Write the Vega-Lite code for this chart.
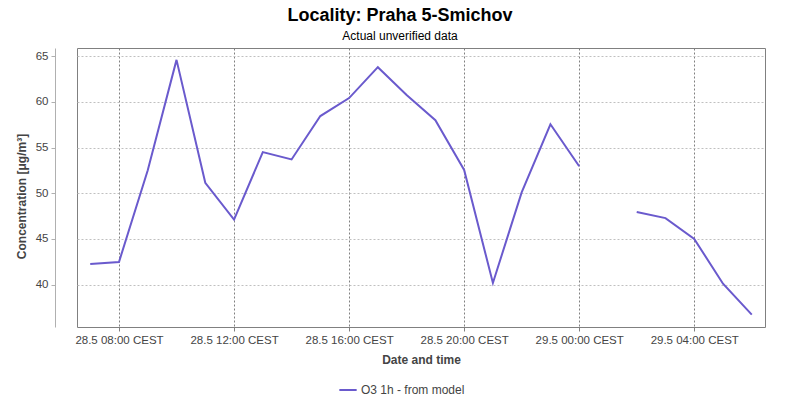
{
  "$schema": "https://vega.github.io/schema/vega-lite/v6.json",
  "autosize": {"type": "none"},
  "width": 688,
  "height": 279,
  "padding": {"left": 77, "top": 48, "right": 35, "bottom": 73},
  "background": "white",
  "config": {
    "font": "Liberation Sans",
    "view": {"stroke": "#808080", "strokeWidth": 1}
  },
  "title": {
    "text": "Locality: Praha 5-Smichov",
    "subtitle": "Actual unverified data",
    "fontSize": 18,
    "fontWeight": "bold",
    "color": "#000000",
    "subtitleFontSize": 12,
    "subtitleColor": "#000000",
    "subtitlePadding": 6,
    "anchor": "middle",
    "dx": -21,
    "offset": 6
  },
  "data": {
    "values": [
      {"time": "2024-05-28T07:00:00Z", "value": 42.26, "series": "O3 1h - from model"},
      {"time": "2024-05-28T08:00:00Z", "value": 42.48, "series": "O3 1h - from model"},
      {"time": "2024-05-28T09:00:00Z", "value": 52.52, "series": "O3 1h - from model"},
      {"time": "2024-05-28T10:00:00Z", "value": 64.6, "series": "O3 1h - from model"},
      {"time": "2024-05-28T11:00:00Z", "value": 51.15, "series": "O3 1h - from model"},
      {"time": "2024-05-28T12:00:00Z", "value": 47.12, "series": "O3 1h - from model"},
      {"time": "2024-05-28T13:00:00Z", "value": 54.5, "series": "O3 1h - from model"},
      {"time": "2024-05-28T14:00:00Z", "value": 53.7, "series": "O3 1h - from model"},
      {"time": "2024-05-28T15:00:00Z", "value": 58.45, "series": "O3 1h - from model"},
      {"time": "2024-05-28T16:00:00Z", "value": 60.42, "series": "O3 1h - from model"},
      {"time": "2024-05-28T17:00:00Z", "value": 63.8, "series": "O3 1h - from model"},
      {"time": "2024-05-28T18:00:00Z", "value": 60.75, "series": "O3 1h - from model"},
      {"time": "2024-05-28T19:00:00Z", "value": 58.0, "series": "O3 1h - from model"},
      {"time": "2024-05-28T20:00:00Z", "value": 52.55, "series": "O3 1h - from model"},
      {"time": "2024-05-28T21:00:00Z", "value": 40.18, "series": "O3 1h - from model"},
      {"time": "2024-05-28T22:00:00Z", "value": 50.1, "series": "O3 1h - from model"},
      {"time": "2024-05-28T23:00:00Z", "value": 57.55, "series": "O3 1h - from model"},
      {"time": "2024-05-29T00:00:00Z", "value": 52.96, "series": "O3 1h - from model"},
      {"time": "2024-05-29T01:00:00Z", "value": null, "series": "O3 1h - from model"},
      {"time": "2024-05-29T02:00:00Z", "value": 47.95, "series": "O3 1h - from model"},
      {"time": "2024-05-29T03:00:00Z", "value": 47.28, "series": "O3 1h - from model"},
      {"time": "2024-05-29T04:00:00Z", "value": 45.0, "series": "O3 1h - from model"},
      {"time": "2024-05-29T05:00:00Z", "value": 40.1, "series": "O3 1h - from model"},
      {"time": "2024-05-29T06:00:00Z", "value": 36.72, "series": "O3 1h - from model"}
    ]
  },
  "mark": {"type": "line", "strokeWidth": 2, "invalid": "break-paths-show-domains", "strokeJoin": "miter"},
  "encoding": {
    "x": {
      "field": "time",
      "type": "temporal",
      "scale": {
        "type": "utc",
        "domain": [
          {"year": 2024, "month": 5, "date": 28, "hours": 6, "minutes": 32, "seconds": 24, "utc": true},
          {"year": 2024, "month": 5, "date": 29, "hours": 6, "minutes": 27, "seconds": 36, "utc": true}
        ],
        "nice": false
      },
      "axis": {
        "title": "Date and time",
        "values": [
          {"year": 2024, "month": 5, "date": 28, "hours": 8, "utc": true},
          {"year": 2024, "month": 5, "date": 28, "hours": 12, "utc": true},
          {"year": 2024, "month": 5, "date": 28, "hours": 16, "utc": true},
          {"year": 2024, "month": 5, "date": 28, "hours": 20, "utc": true},
          {"year": 2024, "month": 5, "date": 29, "hours": 0, "utc": true},
          {"year": 2024, "month": 5, "date": 29, "hours": 4, "utc": true}
        ],
        "labelExpr": "utcFormat(datum.value, '%-d.%-m %H:%M CEST')",
        "labelFont": "Liberation Sans",
        "labelFontSize": 11.5,
        "labelColor": "#444444",
        "labelPadding": 3,
        "labelFlush": false,
        "labelOverlap": false,
        "domain": false,
        "ticks": true,
        "tickSize": 4,
        "tickColor": "#808080",
        "grid": true,
        "gridColor": "#808080",
        "gridDash": [2, 2],
        "gridWidth": 1,
        "titleFont": "Liberation Sans",
        "titleFontSize": 12,
        "titleFontWeight": "bold",
        "titleColor": "#444444",
        "titlePadding": 9
      }
    },
    "y": {
      "field": "value",
      "type": "quantitative",
      "scale": {"domain": [35.36, 65.9], "nice": false, "zero": false},
      "axis": {
        "title": "Concentration [μg/m³]",
        "values": [40, 45, 50, 55, 60, 65],
        "offset": 22,
        "labelFont": "Liberation Sans",
        "labelFontSize": 11.5,
        "labelColor": "#444444",
        "labelPadding": 3,
        "domain": true,
        "domainColor": "#b0b0b0",
        "ticks": true,
        "tickSize": 4,
        "tickColor": "#b0b0b0",
        "grid": true,
        "gridColor": "#c0c0c0",
        "gridDash": [2, 2],
        "gridWidth": 1,
        "titleFont": "Liberation Sans",
        "titleFontSize": 12,
        "titleFontWeight": "bold",
        "titleColor": "#444444",
        "titlePadding": 7,
        "titleY": 148
      }
    },
    "color": {
      "field": "series",
      "type": "nominal",
      "scale": {"range": ["#6a5acd"]},
      "legend": {
        "title": null,
        "orient": "none",
        "legendX": 261,
        "legendY": 332,
        "symbolType": "stroke",
        "symbolStrokeWidth": 2,
        "symbolSize": 300,
        "labelFont": "Liberation Sans",
        "labelFontSize": 12,
        "labelColor": "#444444",
        "labelOffset": 3
      }
    }
  }
}
